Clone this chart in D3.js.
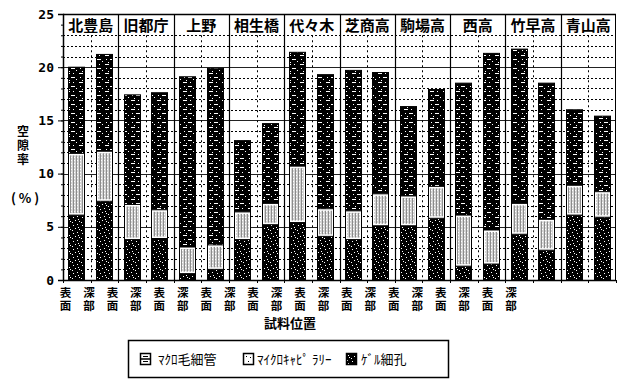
<!DOCTYPE html>
<html>
<head>
<meta charset="utf-8">
<script src="https://cdn.jsdelivr.net/npm/d3@7"></script>
<style>
  html, body { margin: 0; padding: 0; background: #fff; }
  svg { display: block; }
  text { fill: #000; }
  .vert { writing-mode: vertical-rl; }
</style>
</head>
<body>
<svg id="chart" width="617" height="380"></svg>
<script>
// sampling sites (two positions each: surface / deep)
const locations = ["北豊島", "旧都庁", "上野", "相生橋", "代々木", "芝商高", "駒場高", "西高", "竹早高", "青山高"];
const positions = ["表面", "深部"];

// pore volume share (%) per bar, in site order, surface then deep
const gelPores     = [6.1, 7.4, 3.8, 3.9, 0.6, 1.0, 3.8, 5.2, 5.4, 4.1, 3.8, 5.1, 5.1, 5.8, 1.3, 1.5, 4.3, 2.8, 6.1, 5.9];
const microCapill  = [5.8, 4.7, 3.3, 2.7, 2.5, 2.3, 2.6, 2.0, 5.3, 2.6, 2.7, 3.0, 2.8, 3.0, 4.8, 3.2, 2.9, 2.9, 2.8, 2.4];
const macroCapill  = [8.1, 9.1, 10.3, 11.0, 16.0, 16.6, 6.7, 7.5, 10.7, 12.6, 13.2, 11.4, 8.4, 9.1, 12.4, 16.6, 14.5, 12.8, 7.1, 7.1];

const yTicks = [0, 5, 10, 15, 20, 25];
const seriesNames = ["ﾏｸﾛ毛細管", "ﾏｲｸﾛｷｬﾋﾟ ﾗﾘｰ", "ｹﾞﾙ細孔"];

const bars = [];
locations.forEach((loc, i) => positions.forEach((pos, j) => {
  const k = i * 2 + j;
  bars.push({ id: loc + "|" + pos, loc, pos, gel: gelPores[k], micro: microCapill[k], macro: macroCapill[k] });
}));

const svg = d3.select("#chart");
const plotL = 63, plotR = 616, plotT = 14, plotB = 280;

const y = d3.scaleLinear().domain([0, 25]).range([plotB, plotT]);
const x = d3.scaleBand().domain(bars.map(d => d.id)).range([plotL, plotR]).paddingInner(0.38).paddingOuter(0.19);
const gx = d3.scaleBand().domain(locations).range([plotL, plotR]);
const step = x.step();

// fill textures (mostly black with sparse white flecks)
const defs = svg.append("defs");
function texture(id, w, h, bgc, marks, mc) {
  const p = defs.append("pattern").attr("id", id).attr("patternUnits", "userSpaceOnUse").attr("width", w).attr("height", h);
  p.append("rect").attr("width", w).attr("height", h).attr("fill", bgc);
  marks.forEach(r => p.append("rect").attr("x", r[0]).attr("y", r[1]).attr("width", r[2]).attr("height", r[3]).attr("fill", mc));
}
texture("pGel", 9, 8, "#000", [[1,1,1,1],[5,0,1,1],[3,4,1,1],[7,5,1,1],[0,6,1,1],[6,3,1,1]], "#fff");
texture("pMacro", 13, 9, "#000", [[1,1,4,1],[8,1,1,1],[6,5,4,1],[2,5,1,1],[11,7,1,1],[4,8,1,1]], "#fff");
texture("pMicro", 3, 3, "#d4d4d4", [[1,0,1,3]], "#8c8c8c");
defs.select("#pMicro").append("rect").attr("x", 2).attr("y", 1).attr("width", 1).attr("height", 1).attr("fill", "#fff");

// horizontal grid: dotted every unit, solid every five
const minor = d3.range(1, 24).filter(v => v % 5 !== 0);
svg.append("g").selectAll("line").data(minor).join("line")
  .attr("x1", plotL).attr("x2", plotR).attr("y1", d => Math.round(y(d)) + 0.5).attr("y2", d => Math.round(y(d)) + 0.5)
  .attr("stroke", "#000").attr("stroke-width", 1).attr("stroke-dasharray", "2,2");
svg.append("g").selectAll("line").data([5, 10, 15, 20]).join("line")
  .attr("x1", plotL).attr("x2", plotR).attr("y1", d => Math.round(y(d)) + 0.5).attr("y2", d => Math.round(y(d)) + 0.5)
  .attr("stroke", "#222").attr("stroke-width", 1);

// dotted dividers between the two bars of a site
svg.append("g").selectAll("line").data(locations).join("line")
  .attr("x1", d => Math.round(gx(d) + step) + 0.5).attr("x2", d => Math.round(gx(d) + step) + 0.5)
  .attr("y1", y(23)).attr("y2", plotB)
  .attr("stroke", "#000").attr("stroke-dasharray", "2,3");

// stacked bars
const bg = svg.append("g");
bars.forEach(d => {
  const bx = Math.round(x(d.id)), bw = Math.round(x.bandwidth());
  const y0 = y(0), y1 = y(d.gel), y2 = y(d.gel + d.micro), y3 = y(d.gel + d.micro + d.macro);
  bg.append("rect").attr("x", bx).attr("y", y3).attr("width", bw).attr("height", y2 - y3).attr("fill", "url(#pMacro)");
  bg.append("rect").attr("x", bx).attr("y", y1).attr("width", bw).attr("height", y0 - y1).attr("fill", "url(#pGel)");
  bg.append("rect").attr("x", bx + 0.5).attr("y", y2).attr("width", bw - 1).attr("height", y1 - y2)
    .attr("fill", "#fff").attr("stroke", "#000").attr("stroke-width", 1);
  bg.append("rect").attr("x", bx + 2).attr("y", y2 + 2).attr("width", bw - 4).attr("height", Math.max(0, y1 - y2 - 4))
    .attr("fill", "url(#pMicro)");
  bg.append("rect").attr("x", bx + 0.5).attr("y", y3).attr("width", bw - 1).attr("height", y0 - y3)
    .attr("fill", "none").attr("stroke", "#000").attr("stroke-width", 1);
});

// site separators and frame
svg.append("g").selectAll("line").data(locations.slice(1)).join("line")
  .attr("x1", d => Math.round(gx(d)) + 0.5).attr("x2", d => Math.round(gx(d)) + 0.5)
  .attr("y1", plotT).attr("y2", plotB).attr("stroke", "#000").attr("stroke-width", 1.2);
svg.append("line").attr("x1", plotL).attr("x2", plotR).attr("y1", plotT + 0.5).attr("y2", plotT + 0.5)
  .attr("stroke", "#000").attr("stroke-width", 1.5);
svg.append("line").attr("x1", plotR - 0.5).attr("x2", plotR - 0.5).attr("y1", plotT).attr("y2", plotB)
  .attr("stroke", "#000").attr("stroke-width", 1);

// site names along the top band
svg.append("g").selectAll("text").data(locations).join("text")
  .attr("x", d => gx(d) + gx.bandwidth() / 2).attr("y", 31)
  .attr("text-anchor", "middle")
  .attr("font-family", "'Noto Sans CJK JP'").attr("font-size", 15).attr("font-weight", 600)
  .text(d => d);

// y axis
const yAxis = svg.append("g").attr("transform", `translate(${plotL},0)`)
  .call(d3.axisLeft(y).tickValues(yTicks).tickSize(5).tickPadding(4).tickFormat(d3.format("d")));
yAxis.select(".domain").attr("stroke-width", 1.5);
yAxis.selectAll("text").attr("font-family", "'DejaVu Sans Mono'").attr("font-weight", "bold").attr("font-size", 13);
svg.append("g").attr("transform", `translate(${plotL},0)`)
  .call(d3.axisLeft(y).ticks(25).tickSize(2).tickFormat(""))
  .select(".domain").remove();

// x axis line and ticks
svg.append("line").attr("x1", plotL).attr("x2", plotR).attr("y1", plotB + 0.5).attr("y2", plotB + 0.5)
  .attr("stroke", "#000").attr("stroke-width", 1.5);
svg.append("g").selectAll("line").data(d3.range(0, 21)).join("line")
  .attr("x1", i => Math.round(plotL + i * step) + 0.5).attr("x2", i => Math.round(plotL + i * step) + 0.5)
  .attr("y1", plotB).attr("y2", plotB + 3).attr("stroke", "#000");

// sample position labels, set vertically
const lx = d3.scalePoint().domain(bars.map(d => d.id)).range([65.5, 511]);
svg.append("g").selectAll("text").data(bars).join("text")
  .attr("class", "vert")
  .attr("x", d => lx(d.id)).attr("y", 287)
  .attr("font-family", "'Noto Sans CJK JP'").attr("font-size", 11.5).attr("font-weight", 700)
  .attr("letter-spacing", 1)
  .text(d => d.pos);

svg.append("text").attr("x", 290).attr("y", 328).attr("text-anchor", "middle")
  .attr("font-family", "'Noto Sans CJK JP'").attr("font-size", 13).attr("font-weight", 700).text("試料位置");

// y title
svg.append("text").attr("class", "vert").attr("x", 23).attr("y", 125)
  .attr("font-family", "'Noto Sans CJK JP'").attr("font-size", 12).attr("font-weight", 700)
  .attr("letter-spacing", 2).text("空隙率");
svg.append("text").attr("x", 25).attr("y", 203).attr("text-anchor", "middle")
  .attr("font-family", "'Noto Sans CJK JP'").attr("font-size", 13).attr("font-weight", 700).text("( % )");

// legend
const lg = svg.append("g");
lg.append("rect").attr("x", 128.5).attr("y", 340.5).attr("width", 320).attr("height", 37)
  .attr("fill", "#fff").attr("stroke", "#000").attr("stroke-width", 1.5);
const items = [
  { name: seriesNames[0], x: 140, fill: "#fff", tx: 158 },
  { name: seriesNames[1], x: 243, fill: "#fff", tx: 257 },
  { name: seriesNames[2], x: 346, fill: "url(#pGel)", tx: 361 }
];
items.forEach((it, i) => {
  lg.append("rect").attr("x", it.x + 0.5).attr("y", 353.5).attr("width", 10).attr("height", 11)
    .attr("fill", it.fill).attr("stroke", "#000").attr("stroke-width", 1.5);
  if (i === 0) {
    lg.append("line").attr("x1", it.x).attr("x2", it.x + 11).attr("y1", 359).attr("y2", 359).attr("stroke", "#000").attr("stroke-width", 1.5);
    lg.append("line").attr("x1", it.x + 3).attr("x2", it.x + 8).attr("y1", 356.5).attr("y2", 356.5).attr("stroke", "#000");
    lg.append("line").attr("x1", it.x + 3).attr("x2", it.x + 8).attr("y1", 361.5).attr("y2", 361.5).attr("stroke", "#000");
  }
  if (i === 1) {
    lg.append("rect").attr("x", it.x + 3).attr("y", 356).attr("width", 1).attr("height", 1).attr("fill", "#000");
    lg.append("rect").attr("x", it.x + 7).attr("y", 357).attr("width", 1).attr("height", 1).attr("fill", "#000");
    lg.append("rect").attr("x", it.x + 5).attr("y", 361).attr("width", 1).attr("height", 1).attr("fill", "#000");
  }
  lg.append("text").attr("x", it.tx).attr("y", 364)
    .attr("font-family", "'Noto Sans CJK JP'").attr("font-size", 13)
    .text(it.name);
});
</script>
</body>
</html>
